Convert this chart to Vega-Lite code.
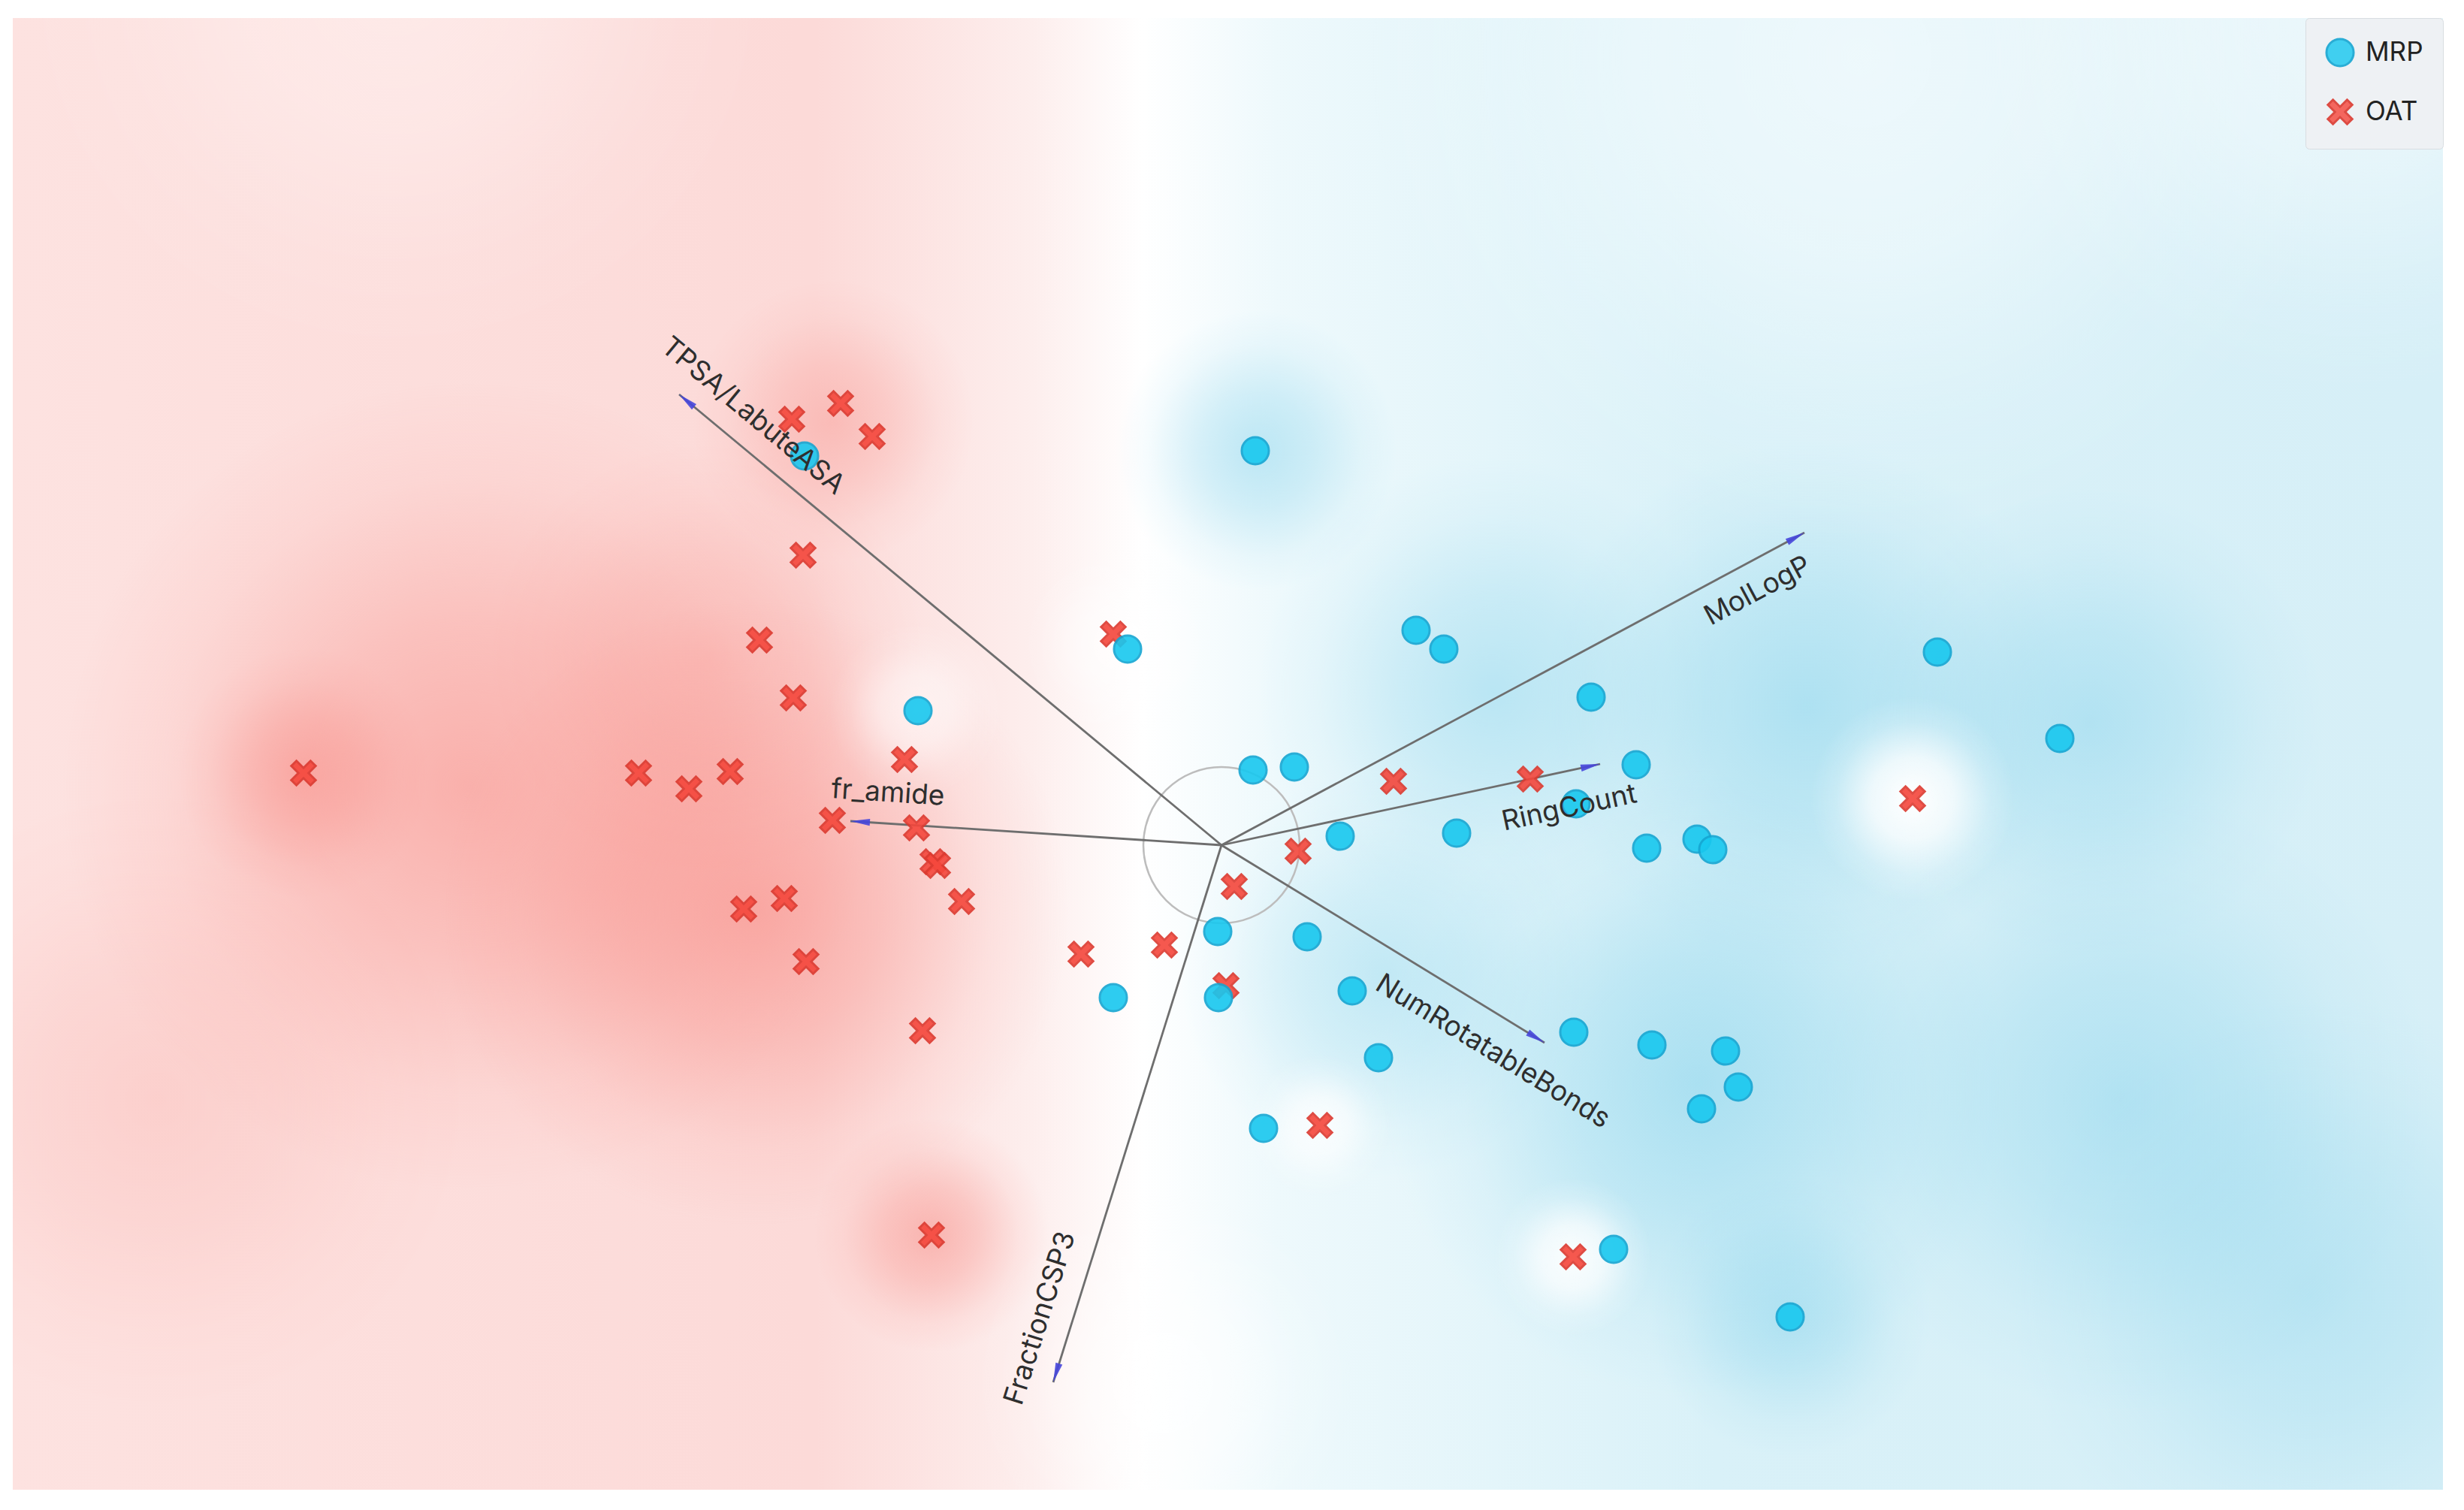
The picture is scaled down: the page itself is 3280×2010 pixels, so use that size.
{
  "$schema": "https://vega.github.io/schema/vega-lite/v6.json",
  "width": 3235,
  "height": 1959,
  "autosize": {"type": "none"},
  "padding": {"left": 17, "top": 24, "right": 28, "bottom": 27},
  "background": "white",
  "datasets": {
    "points": [
      {"cls": "OAT", "pc1": -12.22, "pc2": 0.96},
      {"cls": "OAT", "pc1": -7.76, "pc2": 0.96},
      {"cls": "OAT", "pc1": -7.09, "pc2": 0.75},
      {"cls": "OAT", "pc1": -6.54, "pc2": 0.98},
      {"cls": "OAT", "pc1": -6.15, "pc2": 2.73},
      {"cls": "OAT", "pc1": -5.57, "pc2": 3.86},
      {"cls": "OAT", "pc1": -5.70, "pc2": 1.96},
      {"cls": "OAT", "pc1": -5.72, "pc2": 5.67},
      {"cls": "OAT", "pc1": -5.07, "pc2": 5.88},
      {"cls": "OAT", "pc1": -4.65, "pc2": 5.44},
      {"cls": "OAT", "pc1": -4.22, "pc2": 1.14},
      {"cls": "OAT", "pc1": -5.18, "pc2": 0.33},
      {"cls": "OAT", "pc1": -4.06, "pc2": 0.23},
      {"cls": "OAT", "pc1": -3.84, "pc2": -0.22},
      {"cls": "OAT", "pc1": -3.78, "pc2": -0.27},
      {"cls": "OAT", "pc1": -3.46, "pc2": -0.75},
      {"cls": "OAT", "pc1": -6.36, "pc2": -0.85},
      {"cls": "OAT", "pc1": -5.82, "pc2": -0.71},
      {"cls": "OAT", "pc1": -5.53, "pc2": -1.55},
      {"cls": "OAT", "pc1": -3.98, "pc2": -2.47},
      {"cls": "OAT", "pc1": -3.86, "pc2": -5.19},
      {"cls": "OAT", "pc1": -1.87, "pc2": -1.45},
      {"cls": "OAT", "pc1": -0.76, "pc2": -1.33},
      {"cls": "OAT", "pc1": -1.44, "pc2": 2.81},
      {"cls": "OAT", "pc1": 0.06, "pc2": -1.87},
      {"cls": "OAT", "pc1": 0.17, "pc2": -0.55},
      {"cls": "OAT", "pc1": 1.02, "pc2": -0.08},
      {"cls": "OAT", "pc1": 2.29, "pc2": 0.85},
      {"cls": "OAT", "pc1": 4.11, "pc2": 0.88},
      {"cls": "OAT", "pc1": 1.31, "pc2": -3.73},
      {"cls": "OAT", "pc1": 4.68, "pc2": -5.48},
      {"cls": "OAT", "pc1": 9.20, "pc2": 0.62},
      {"cls": "MRP", "pc1": -5.55, "pc2": 5.18},
      {"cls": "MRP", "pc1": -4.04, "pc2": 1.79},
      {"cls": "MRP", "pc1": -1.25, "pc2": 2.61},
      {"cls": "MRP", "pc1": 0.45, "pc2": 5.25},
      {"cls": "MRP", "pc1": 0.42, "pc2": 1.00},
      {"cls": "MRP", "pc1": 0.97, "pc2": 1.04},
      {"cls": "MRP", "pc1": 1.58, "pc2": 0.12},
      {"cls": "MRP", "pc1": 3.13, "pc2": 0.16},
      {"cls": "MRP", "pc1": 2.59, "pc2": 2.86},
      {"cls": "MRP", "pc1": 2.96, "pc2": 2.61},
      {"cls": "MRP", "pc1": 4.92, "pc2": 1.97},
      {"cls": "MRP", "pc1": 5.52, "pc2": 1.07},
      {"cls": "MRP", "pc1": 4.72, "pc2": 0.55},
      {"cls": "MRP", "pc1": 5.66, "pc2": -0.04},
      {"cls": "MRP", "pc1": 6.33, "pc2": 0.08},
      {"cls": "MRP", "pc1": 6.54, "pc2": -0.06},
      {"cls": "MRP", "pc1": 9.53, "pc2": 2.57},
      {"cls": "MRP", "pc1": 11.16, "pc2": 1.42},
      {"cls": "MRP", "pc1": -0.05, "pc2": -1.15},
      {"cls": "MRP", "pc1": 1.14, "pc2": -1.22},
      {"cls": "MRP", "pc1": -0.04, "pc2": -2.03},
      {"cls": "MRP", "pc1": -1.44, "pc2": -2.03},
      {"cls": "MRP", "pc1": 1.74, "pc2": -1.94},
      {"cls": "MRP", "pc1": 2.09, "pc2": -2.83},
      {"cls": "MRP", "pc1": 4.69, "pc2": -2.49},
      {"cls": "MRP", "pc1": 5.73, "pc2": -2.66},
      {"cls": "MRP", "pc1": 6.71, "pc2": -2.74},
      {"cls": "MRP", "pc1": 6.88, "pc2": -3.22},
      {"cls": "MRP", "pc1": 6.39, "pc2": -3.51},
      {"cls": "MRP", "pc1": 0.56, "pc2": -3.77},
      {"cls": "MRP", "pc1": 5.22, "pc2": -5.38},
      {"cls": "MRP", "pc1": 7.57, "pc2": -6.28}
    ],
    "vectors": [
      {"name": "TPSA/LabuteASA", "ox": 0, "oy": 0, "tx": -7.22, "ty": 6.00, "lx": -6.24, "ly": 5.71},
      {"name": "fr_amide", "ox": 0, "oy": 0, "tx": -4.94, "ty": 0.32, "lx": -4.44, "ly": 0.69},
      {"name": "FractionCSP3", "ox": 0, "oy": 0, "tx": -2.24, "ty": -7.15, "lx": -2.41, "ly": -6.30},
      {"name": "NumRotatableBonds", "ox": 0, "oy": 0, "tx": 4.30, "ty": -2.63, "lx": 3.61, "ly": -2.75},
      {"name": "RingCount", "ox": 0, "oy": 0, "tx": 5.04, "ty": 1.08, "lx": 4.63, "ly": 0.49},
      {"name": "MolLogP", "ox": 0, "oy": 0, "tx": 7.76, "ty": 4.16, "lx": 7.14, "ly": 3.38}
    ],
    "density": [
      {"kind": "red", "x1": -15.47, "x2": -4.59, "y1": -4.65, "y2": 6.23, "w": 0.55},
      {"kind": "red", "x1": -10.40, "x2": -2.04, "y1": -5.06, "y2": 3.30, "w": 0.6},
      {"kind": "red", "x1": -13.89, "x2": -10.55, "y1": -0.71, "y2": 2.63, "w": 0.45},
      {"kind": "red", "x1": -7.05, "x2": -3.29, "y1": 3.76, "y2": 7.52, "w": 0.4},
      {"kind": "red", "x1": -5.43, "x2": -2.29, "y1": -6.76, "y2": -3.62, "w": 0.55},
      {"kind": "red", "x1": -9.78, "x2": -3.92, "y1": -0.47, "y2": 5.39, "w": 0.3},
      {"kind": "red", "x1": -18.35, "x2": -9.99, "y1": -7.57, "y2": 0.79, "w": 0.2},
      {"kind": "blue", "x1": -1.41, "x2": 2.35, "y1": 3.37, "y2": 7.13, "w": 0.5},
      {"kind": "blue", "x1": 0.47, "x2": 6.75, "y1": -1.09, "y2": 5.19, "w": 0.45},
      {"kind": "blue", "x1": 4.24, "x2": 11.36, "y1": -1.72, "y2": 5.40, "w": 0.5},
      {"kind": "blue", "x1": 8.42, "x2": 14.70, "y1": -1.51, "y2": 4.77, "w": 0.45},
      {"kind": "blue", "x1": 2.15, "x2": 10.51, "y1": -7.36, "y2": 1.00, "w": 0.55},
      {"kind": "blue", "x1": 5.69, "x2": 9.45, "y1": -8.16, "y2": -4.40, "w": 0.45},
      {"kind": "blue", "x1": -0.57, "x2": 4.87, "y1": -4.44, "y2": 1.00, "w": 0.4},
      {"kind": "blue", "x1": 7.80, "x2": 16.16, "y1": -7.57, "y2": 0.79, "w": 0.45},
      {"kind": "blue", "x1": 10.5, "x2": 18.5, "y1": -10.0, "y2": -2.0, "w": 0.35},
      {"kind": "white", "x1": 7.84, "x2": 10.56, "y1": -0.74, "y2": 1.98, "w": 1},
      {"kind": "white", "x1": 3.63, "x2": 5.73, "y1": -6.53, "y2": -4.43, "w": 0.9},
      {"kind": "white", "x1": 0.37, "x2": 2.25, "y1": -4.67, "y2": -2.79, "w": 0.8},
      {"kind": "white", "x1": -5.22, "x2": -2.92, "y1": 0.65, "y2": 2.95, "w": 0.6},
      {"kind": "white", "x1": -2.63, "x2": -0.11, "y1": 1.41, "y2": 3.93, "w": 0.6},
      {"kind": "white", "x1": -3.29, "x2": 1.73, "y1": -9.67, "y2": -4.65, "w": 0.6},
      {"kind": "white", "x1": 2.0, "x2": 15.0, "y1": 4.0, "y2": 17.0, "w": 0.55},
      {"kind": "white", "x1": 10.0, "x2": 20.0, "y1": 6.0, "y2": 16.0, "w": 0.5},
      {"kind": "white", "x1": -16.0, "x2": -6.0, "y1": 6.5, "y2": 16.5, "w": 0.35}
    ]
  },
  "layer": [
    {
      "data": {"values": [{"a": 1}]},
      "mark": {
        "type": "rect",
        "fill": {
          "gradient": "linear", "x1": 0, "y1": 0, "x2": 1, "y2": 0,
          "stops": [
            {"offset": 0, "color": "#fde2e0"},
            {"offset": 0.33, "color": "#fcdad8"},
            {"offset": 0.42, "color": "#fdeeed"},
            {"offset": 0.465, "color": "#ffffff"},
            {"offset": 0.52, "color": "#eef9fc"},
            {"offset": 0.7, "color": "#d9f1f8"},
            {"offset": 1, "color": "#d6eff7"}
          ]
        }
      },
      "encoding": {
        "x": {"value": 0}, "x2": {"value": "width"},
        "y": {"value": 0}, "y2": {"value": "height"}
      }
    },
    {
      "data": {"name": "density"},
      "transform": [{"filter": "datum.kind === 'red'"}],
      "mark": {
        "type": "rect", "clip": true,
        "fill": {
          "gradient": "radial", "x1": 0.5, "y1": 0.5, "r1": 0, "x2": 0.5, "y2": 0.5, "r2": 0.5,
          "stops": [
            {"offset": 0, "color": "rgba(246,118,110,0.8)"},
            {"offset": 0.4, "color": "rgba(246,118,110,0.5)"},
            {"offset": 0.75, "color": "rgba(246,118,110,0.14)"},
            {"offset": 1, "color": "rgba(246,118,110,0)"}
          ]
        }
      },
      "encoding": {
        "x": {"field": "x1", "type": "quantitative", "scale": {"domain": [-16.09, 16.26], "nice": false, "zero": false}, "axis": null},
        "x2": {"field": "x2"},
        "y": {"field": "y1", "type": "quantitative", "scale": {"domain": [-8.58, 11.01], "nice": false, "zero": false}, "axis": null},
        "y2": {"field": "y2"},
        "opacity": {"field": "w", "type": "quantitative", "scale": {"domain": [0, 1], "range": [0, 1]}, "legend": null}
      }
    },
    {
      "data": {"name": "density"},
      "transform": [{"filter": "datum.kind === 'blue'"}],
      "mark": {
        "type": "rect", "clip": true,
        "fill": {
          "gradient": "radial", "x1": 0.5, "y1": 0.5, "r1": 0, "x2": 0.5, "y2": 0.5, "r2": 0.5,
          "stops": [
            {"offset": 0, "color": "rgba(110,202,232,0.8)"},
            {"offset": 0.4, "color": "rgba(110,202,232,0.5)"},
            {"offset": 0.75, "color": "rgba(110,202,232,0.14)"},
            {"offset": 1, "color": "rgba(110,202,232,0)"}
          ]
        }
      },
      "encoding": {
        "x": {"field": "x1", "type": "quantitative", "scale": {"domain": [-16.09, 16.26], "nice": false, "zero": false}, "axis": null},
        "x2": {"field": "x2"},
        "y": {"field": "y1", "type": "quantitative", "scale": {"domain": [-8.58, 11.01], "nice": false, "zero": false}, "axis": null},
        "y2": {"field": "y2"},
        "opacity": {"field": "w", "type": "quantitative", "scale": {"domain": [0, 1], "range": [0, 1]}, "legend": null}
      }
    },
    {
      "data": {"name": "density"},
      "transform": [{"filter": "datum.kind === 'white'"}],
      "mark": {
        "type": "rect", "clip": true,
        "fill": {
          "gradient": "radial", "x1": 0.5, "y1": 0.5, "r1": 0, "x2": 0.5, "y2": 0.5, "r2": 0.5,
          "stops": [
            {"offset": 0, "color": "rgba(255,255,255,1)"},
            {"offset": 0.4, "color": "rgba(255,255,255,0.75)"},
            {"offset": 0.75, "color": "rgba(255,255,255,0.2)"},
            {"offset": 1, "color": "rgba(255,255,255,0)"}
          ]
        }
      },
      "encoding": {
        "x": {"field": "x1", "type": "quantitative", "scale": {"domain": [-16.09, 16.26], "nice": false, "zero": false}, "axis": null},
        "x2": {"field": "x2"},
        "y": {"field": "y1", "type": "quantitative", "scale": {"domain": [-8.58, 11.01], "nice": false, "zero": false}, "axis": null},
        "y2": {"field": "y2"},
        "opacity": {"field": "w", "type": "quantitative", "scale": {"domain": [0, 1], "range": [0, 1]}, "legend": null}
      }
    },
    {
      "data": {"values": [{"pc1": 0, "pc2": 0}]},
      "mark": {"type": "point", "shape": "circle", "size": 43264, "filled": false, "stroke": "#bdbdbd", "strokeWidth": 2.5, "opacity": 1},
      "encoding": {
        "x": {"field": "pc1", "type": "quantitative", "scale": {"domain": [-16.09, 16.26], "nice": false, "zero": false}, "axis": null},
        "y": {"field": "pc2", "type": "quantitative", "scale": {"domain": [-8.58, 11.01], "nice": false, "zero": false}, "axis": null}
      }
    },
    {
      "data": {"name": "vectors"},
      "mark": {"type": "rule", "stroke": "#6e6e6e", "strokeWidth": 2.8},
      "encoding": {
        "x": {"field": "ox", "type": "quantitative", "scale": {"domain": [-16.09, 16.26], "nice": false, "zero": false}, "axis": null},
        "y": {"field": "oy", "type": "quantitative", "scale": {"domain": [-8.58, 11.01], "nice": false, "zero": false}, "axis": null},
        "x2": {"field": "tx"},
        "y2": {"field": "ty"}
      }
    },
    {
      "data": {"name": "points"},
      "mark": {"type": "point", "filled": true, "opacity": 0.9, "strokeWidth": 3},
      "encoding": {
        "x": {"field": "pc1", "type": "quantitative", "scale": {"domain": [-16.09, 16.26], "nice": false, "zero": false}, "axis": null},
        "y": {"field": "pc2", "type": "quantitative", "scale": {"domain": [-8.58, 11.01], "nice": false, "zero": false}, "axis": null},
        "fill": {"field": "cls", "type": "nominal", "scale": {"domain": ["MRP", "OAT"], "range": ["#18c8ef", "#f5473c"]}, "legend": {"title": null}},
        "stroke": {"field": "cls", "type": "nominal", "scale": {"domain": ["MRP", "OAT"], "range": ["#15a6d2", "#dc3a30"]}, "legend": {"title": null}},
        "shape": {"field": "cls", "type": "nominal", "scale": {"domain": ["MRP", "OAT"], "range": ["circle", "M-1,-0.58L-0.58,-1L0,-0.42L0.58,-1L1,-0.58L0.42,0L1,0.58L0.58,1L0,0.42L-0.58,1L-1,0.58L-0.42,0Z"]}, "legend": {"title": null}},
        "size": {"field": "cls", "type": "nominal", "scale": {"domain": ["MRP", "OAT"], "range": [1300, 1050]}, "legend": {"title": null}}
      }
    },
    {
      "data": {"name": "vectors"},
      "transform": [{"calculate": "-atan2(datum.ty, datum.tx) * 180 / PI", "as": "dir"}],
      "mark": {"type": "point", "filled": true, "shape": "M0,0L-2,-0.36L-2,0.36Z", "size": 676, "fill": "#4646dc", "opacity": 0.9, "strokeWidth": 0},
      "encoding": {
        "x": {"field": "tx", "type": "quantitative", "scale": {"domain": [-16.09, 16.26], "nice": false, "zero": false}, "axis": null},
        "y": {"field": "ty", "type": "quantitative", "scale": {"domain": [-8.58, 11.01], "nice": false, "zero": false}, "axis": null},
        "angle": {"field": "dir", "type": "quantitative", "scale": null}
      }
    },
    {
      "data": {"name": "vectors"},
      "transform": [
        {"calculate": "-atan2(datum.ty, datum.tx) * 180 / PI", "as": "dir"},
        {"calculate": "datum.dir > 90 ? datum.dir - 180 : (datum.dir < -90 ? datum.dir + 180 : datum.dir)", "as": "tangle"}
      ],
      "mark": {"type": "text", "fontSize": 37, "fill": "#2e2e2e", "align": "center", "baseline": "middle"},
      "encoding": {
        "x": {"field": "lx", "type": "quantitative", "scale": {"domain": [-16.09, 16.26], "nice": false, "zero": false}, "axis": null},
        "y": {"field": "ly", "type": "quantitative", "scale": {"domain": [-8.58, 11.01], "nice": false, "zero": false}, "axis": null},
        "text": {"field": "name"},
        "angle": {"field": "tangle", "type": "quantitative", "scale": null}
      }
    }
  ],
  "config": {
    "view": {"stroke": null},
    "font": "Inter",
    "legend": {
      "orient": "top-right",
      "offset": 0,
      "padding": 26,
      "fillColor": "#eef1f4",
      "strokeColor": "#d9dde1",
      "cornerRadius": 5,
      "labelFontSize": 35,
      "labelColor": "#222222",
      "labelFont": "Inter",
      "symbolStrokeWidth": 3,
      "rowPadding": 31,
      "labelOffset": 14
    }
  }
}
